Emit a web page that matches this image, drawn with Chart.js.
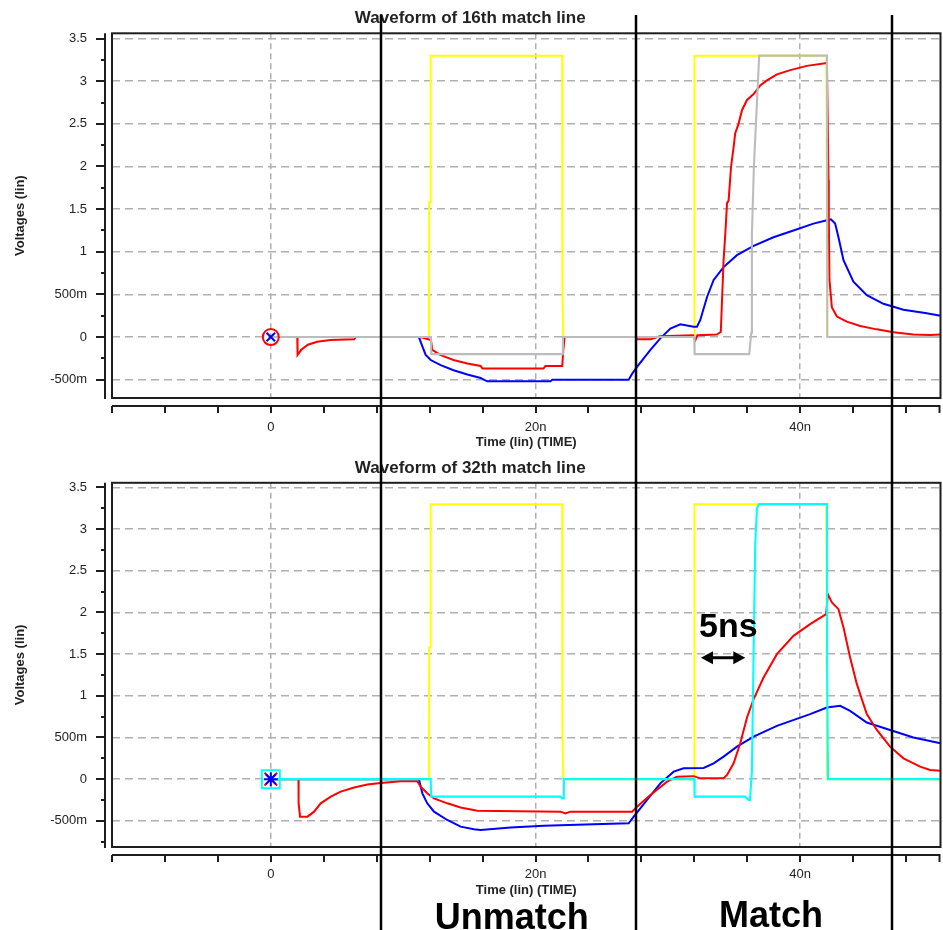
<!DOCTYPE html>
<html><head><meta charset="utf-8">
<script src="https://cdn.jsdelivr.net/npm/chart.js@4.4.1/dist/chart.umd.min.js"></script>
<style>
html,body{margin:0;padding:0;background:#fff;}
#wrap{position:relative;width:943px;height:930px;overflow:hidden;background:#fff;}
canvas{display:block;}
</style></head><body>
<div id="wrap">
<canvas id="c1" width="943" height="450"></canvas>
<canvas id="c2" width="943" height="480"></canvas>
</div>
<script>
const FONT = '"Liberation Sans", Arial, Helvetica, sans-serif';

// ---- axes / labels ----
const timeRange = [-12, 50.6];
const xTickValues = [0, 20, 40];
const xTickLabels = ['0', '20n', '40n'];
const yTickValues = [-0.5, 0, 0.5, 1, 1.5, 2, 2.5, 3, 3.5];
const yTickLabels = ['-500m', '0', '500m', '1', '1.5', '2', '2.5', '3', '3.5'];
const topYRange = [-0.715, 3.562];
const bottomYRange = [-0.814, 3.556];
const dividerTimes = [8.3, 27.6, 46.9];
const phaseLabels = ['Unmatch', 'Match'];
const phaseLabelTimes = [18.2, 37.8];
const delayLabel = '5ns';
const delayLabelAt = [34.57, 1.70];
const delayArrow = [32.5, 35.85, 1.457];

// ---- waveforms, [time (ns), volts] ----
const clockA = [[0,0],[11.95,0],[11.96,1.58],[12.07,1.58],[12.08,3.3],[22.02,3.3],[22.03,0.57],[22.1,0],[32.0,0],[32.01,3.3],[41.98,3.3],[42.0,2.5],[42.03,0],[50.6,0]];

const top16Gray = [[0,0],[12.1,0],[12.12,-0.2],[22.06,-0.2],[22.08,0],[32.0,0],[32.02,-0.2],[36.15,-0.2],[36.3,0.05],[36.35,1.2],[36.5,2.0],[36.9,3.3],[42.02,3.3],[42.05,0],[50.6,0]];

const top16Red = [[2.0,0],[2.02,-0.21],[2.3,-0.15],[2.8,-0.09],[3.5,-0.055],[4.5,-0.035],[6.3,-0.027],[6.4,0],[11.3,0],[12.1,-0.035],[12.2,-0.15],[12.8,-0.21],[13.8,-0.27],[14.85,-0.31],[15.85,-0.34],[16.0,-0.37],[20.6,-0.37],[20.75,-0.34],[22.02,-0.34],[22.1,-0.15],[22.2,0],[27.6,0],[27.7,-0.027],[28.7,-0.027],[29.4,0.01],[31.9,0.02],[32.08,-0.035],[32.23,0.02],[33.7,0.03],[33.9,0.05],[34.0,0.06],[34.21,0.9],[34.34,1.21],[34.47,1.57],[34.59,1.6],[34.77,1.99],[34.97,2.23],[35.09,2.39],[35.34,2.5],[35.6,2.66],[35.98,2.78],[36.48,2.85],[36.98,2.95],[37.49,3.01],[38.24,3.08],[39.25,3.13],[40.5,3.18],[41.89,3.21],[42.02,3.21],[42.14,1.84],[42.16,1.41],[42.21,0.67],[42.39,0.35],[42.77,0.24],[43.52,0.18],[44.53,0.13],[45.79,0.09],[47.04,0.055],[48.55,0.03],[49.81,0.023],[50.6,0.03]];

const top16Blue = [[0,0],[11.19,0],[11.45,-0.11],[11.7,-0.21],[12.08,-0.27],[12.83,-0.33],[13.81,-0.39],[14.85,-0.44],[15.85,-0.48],[16.35,-0.52],[21.13,-0.52],[21.26,-0.50],[27.04,-0.50],[27.3,-0.43],[27.67,-0.35],[28.68,-0.15],[29.43,-0.015],[30.19,0.10],[30.94,0.15],[31.95,0.12],[32.2,0.12],[32.45,0.2],[32.96,0.47],[33.46,0.67],[34.21,0.82],[35.22,0.96],[36.48,1.07],[37.98,1.17],[39.49,1.25],[41.0,1.33],[42.02,1.37],[42.32,1.38],[42.64,1.33],[42.89,1.17],[43.27,0.90],[44.02,0.65],[45.03,0.49],[46.29,0.39],[47.8,0.32],[49.56,0.28],[50.6,0.25]];

const bot32Cyan = [[0,0],[12.08,0],[12.12,-0.21],[21.9,-0.21],[22.0,-0.23],[22.1,-0.23],[22.14,0],[32.0,0],[32.02,-0.21],[35.85,-0.21],[36.1,-0.25],[36.2,-0.25],[36.35,0.09],[36.48,1.54],[36.6,2.81],[36.73,3.25],[36.9,3.3],[42.02,3.3],[42.03,1.4],[42.1,0],[50.6,0]];

const bot32Red = [[2.09,0],[2.1,-0.29],[2.21,-0.45],[2.77,-0.45],[3.27,-0.39],[3.77,-0.29],[4.53,-0.21],[5.28,-0.15],[6.29,-0.10],[7.3,-0.065],[8.3,-0.045],[9.81,-0.025],[11.07,-0.025],[11.32,-0.09],[11.82,-0.17],[12.33,-0.23],[13.33,-0.29],[14.34,-0.34],[15.6,-0.38],[21.89,-0.39],[22.26,-0.41],[22.64,-0.39],[27.3,-0.39],[27.67,-0.33],[28.68,-0.19],[29.94,-0.03],[30.69,0.03],[31.95,0.036],[32.45,0.01],[34.21,0.01],[34.47,0.05],[34.97,0.19],[35.47,0.43],[35.98,0.74],[36.48,0.96],[37.23,1.22],[38.24,1.50],[39.49,1.72],[40.75,1.86],[41.96,1.98],[42.09,2.22],[42.39,2.12],[42.89,2.04],[43.27,1.82],[43.77,1.46],[44.28,1.14],[45.03,0.78],[45.79,0.59],[46.79,0.39],[47.8,0.25],[49.06,0.15],[49.81,0.11],[50.6,0.10]];

const bot32Blue = [[0,0],[11.19,0],[11.45,-0.17],[11.82,-0.29],[12.33,-0.39],[13.33,-0.49],[14.34,-0.57],[15.35,-0.60],[15.85,-0.61],[18.11,-0.58],[20.63,-0.56],[24.4,-0.54],[27.04,-0.53],[27.42,-0.45],[28.43,-0.25],[29.43,-0.05],[30.44,0.09],[31.19,0.13],[32.7,0.135],[33.46,0.19],[34.21,0.27],[35.22,0.39],[36.48,0.51],[38.24,0.64],[40.75,0.78],[42.02,0.86],[43.02,0.88],[43.77,0.82],[45.03,0.68],[46.79,0.59],[48.55,0.50],[50.6,0.43]];

const markerAt = [[0,0]];

// ---- helpers ----
const pts = a => a.map(p => ({x: p[0], y: p[1]}));
function wave(label, arr, color, width) {
  return {label, data: pts(arr), borderColor: color, backgroundColor: color, borderWidth: width,
          pointRadius: 0, showLine: true, tension: 0, fill: false};
}
function marker(style, color, r, bw) {
  return {label: 'marker', data: pts(markerAt), showLine: false, pointStyle: style, pointRadius: r,
          pointBorderColor: color, pointBackgroundColor: 'rgba(0,0,0,0)', pointBorderWidth: bw,
          borderColor: color, backgroundColor: 'rgba(0,0,0,0)'};
}

const decor = {
  id: 'decor',
  afterDraw(chart, args, o) {
    const {ctx, chartArea: a} = chart;
    const x = chart.scales.x, y = chart.scales.y;
    ctx.save();
    ctx.strokeStyle = '#1e1e1e';
    ctx.lineWidth = 2;
    ctx.strokeRect(a.left, a.top, a.right - a.left, a.bottom - a.top);
    const ax = a.left - 7;
    ctx.beginPath();
    ctx.moveTo(ax, a.top); ctx.lineTo(ax, a.bottom + 1);
    const q = 0.25;
    for (let k = Math.ceil(y.min / q); k * q <= y.max; k++) {
      const py = Math.round(y.getPixelForValue(k * q));
      const len = (k % 2 === 0) ? 9 : 4;
      ctx.moveTo(ax, py); ctx.lineTo(ax - len, py);
    }
    const ay = a.bottom + 8;
    ctx.moveTo(a.left, ay); ctx.lineTo(a.right, ay);
    for (let t = timeRange[0]; t <= x.max + 1e-6; t += 4) {
      const px = Math.round(x.getPixelForValue(t));
      ctx.moveTo(px, ay); ctx.lineTo(px, ay + 7);
    }
    ctx.moveTo(a.right - 1, ay); ctx.lineTo(a.right - 1, ay + 7);
    ctx.stroke();

    // phase dividers
    ctx.strokeStyle = '#000';
    ctx.lineWidth = 2.5;
    ctx.beginPath();
    dividerTimes.forEach(t => {
      const px = Math.round(x.getPixelForValue(t));
      ctx.moveTo(px, o.dividerTop); ctx.lineTo(px, chart.height);
    });
    ctx.stroke();

    if (o.notes) {
      ctx.fillStyle = '#000';
      ctx.textAlign = 'center';
      ctx.textBaseline = 'alphabetic';
      ctx.font = 'bold 34px ' + FONT;
      ctx.fillText(delayLabel, x.getPixelForValue(delayLabelAt[0]), y.getPixelForValue(delayLabelAt[1]));
      const x1 = x.getPixelForValue(delayArrow[0]), x2 = x.getPixelForValue(delayArrow[1]);
      const yy = y.getPixelForValue(delayArrow[2]);
      ctx.lineWidth = 3;
      ctx.beginPath(); ctx.moveTo(x1 + 8, yy); ctx.lineTo(x2 - 8, yy); ctx.stroke();
      ctx.beginPath();
      ctx.moveTo(x1, yy); ctx.lineTo(x1 + 12, yy - 6.5); ctx.lineTo(x1 + 12, yy + 6.5); ctx.closePath();
      ctx.moveTo(x2, yy); ctx.lineTo(x2 - 12, yy - 6.5); ctx.lineTo(x2 - 12, yy + 6.5); ctx.closePath();
      ctx.fill();
      ctx.font = 'bold 36px ' + FONT;
      phaseLabels.forEach((s, i) => {
        ctx.fillText(s, x.getPixelForValue(phaseLabelTimes[i]), chart.height - (i === 0 ? 1 : 3));
      });
    }
    ctx.restore();
  }
};

function makeOptions(title, yRange, xHeight, titleBottomPad, tickPad, xTitlePad, dividerTop, notes) {
  return {
    responsive: false, animation: false, events: [],
    layout: {padding: {left: 0, right: 2.5, top: 0, bottom: 0}, autoPadding: false},
    plugins: {
      legend: {display: false}, tooltip: {enabled: false},
      title: {display: true, text: title, color: '#222', font: {family: FONT, size: 17, weight: 'bold'},
              padding: {top: 7.8, bottom: titleBottomPad}},
      decor: {dividerTop, notes}
    },
    scales: {
      x: {
        type: 'linear', min: timeRange[0], max: timeRange[1],
        afterFit: s => { s.height = xHeight; },
        afterBuildTicks: s => { s.ticks = xTickValues.map(v => ({value: v})); },
        ticks: {callback: (v, i) => xTickLabels[i], color: '#222', font: {family: FONT, size: 13},
                padding: tickPad, maxRotation: 0, autoSkip: false},
        grid: {color: '#b0b0b0', lineWidth: 1.5, drawTicks: false},
        border: {display: false, dash: [6, 4]},
        title: {display: true, text: 'Time (lin) (TIME)', color: '#222', font: {family: FONT, size: 13, weight: 'bold'},
                padding: {top: 0, bottom: xTitlePad}}
      },
      y: {
        type: 'linear', min: yRange[0], max: yRange[1],
        afterFit: s => { s.width = 112; },
        afterBuildTicks: s => { s.ticks = yTickValues.map(v => ({value: v})); },
        ticks: {callback: (v, i) => yTickLabels[i], color: '#222', font: {family: FONT, size: 13},
                padding: 25, autoSkip: false},
        grid: {color: '#b0b0b0', lineWidth: 1.5, drawTicks: false},
        border: {display: false, dash: [8, 5]},
        title: {display: true, text: 'Voltages (lin)', color: '#222', font: {family: FONT, size: 13, weight: 'bold'},
                padding: {top: 12.5, bottom: 0}}
      }
    }
  };
}

new Chart(document.getElementById('c1'), {
  type: 'scatter',
  data: {datasets: [
    marker('crossRot', '#0000ff', 6, 2),
    marker('circle', '#ff0000', 8, 2),
    wave('gray', top16Gray, '#bcbcbc', 2.1),
    wave('red', top16Red, '#ff0000', 2),
    wave('blue', top16Blue, '#0000ff', 2),
    wave('yellow', clockA, '#ffff00', 2)
  ]},
  options: makeOptions('Waveform of 16th match line', topYRange, 52, 5.1, 21.2, 0, 15, false),
  plugins: [decor]
});

new Chart(document.getElementById('c2'), {
  type: 'scatter',
  data: {datasets: [
    marker('star', '#0000ff', 7, 2),
    marker('crossRot', '#ff0000', 9, 2),
    marker('rect', '#00ffff', 12.7, 2),
    wave('cyan', bot32Cyan, '#00ffff', 2.1),
    wave('red', bot32Red, '#ff0000', 2),
    wave('blue', bot32Blue, '#0000ff', 2),
    wave('yellow', clockA, '#ffff00', 2)
  ]},
  options: makeOptions('Waveform of 32th match line', bottomYRange, 83, 4.1, 19.9, 32.2, 0, true),
  plugins: [decor]
});
</script>
</body></html>
